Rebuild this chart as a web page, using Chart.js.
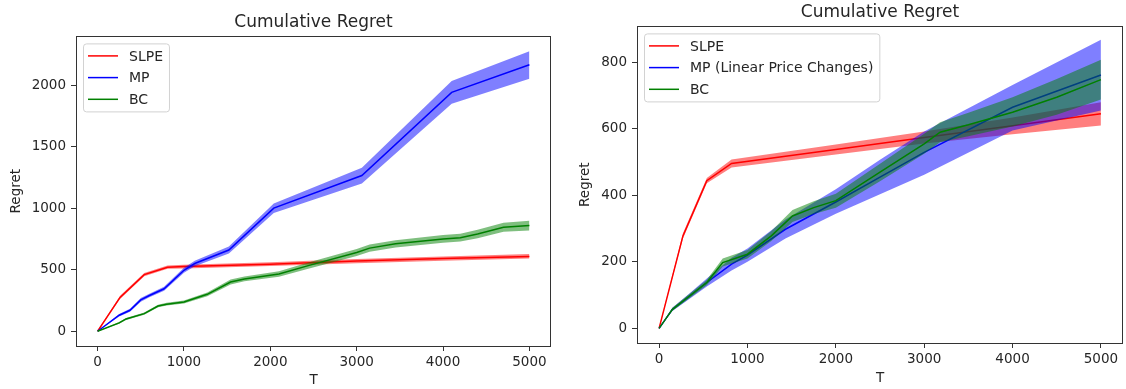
<!DOCTYPE html>
<html>
<head>
<meta charset="utf-8">
<script src="https://cdn.jsdelivr.net/npm/chart.js@4/dist/chart.umd.min.js"></script>
<style>
  html, body { margin: 0; padding: 0; background: #fff; }
  .box { position: absolute; top: 0; width: 563px; height: 389px; }
</style>
</head>
<body>
<div class="box" style="left:0"><canvas id="leftChart"></canvas></div>
<div class="box" style="left:563px"><canvas id="rightChart"></canvas></div>
<script>
// ticks
const xTicks = [0, 1000, 2000, 3000, 4000, 5000];
const leftYTicks = [0, 500, 1000, 1500, 2000];
const rightYTicks = [0, 200, 400, 600, 800];

// left plot
const leftSlpeT = [0, 260, 540, 810, 1000, 2000, 3000, 4000, 5000];
const leftSlpe = [0, 275, 460, 520, 525, 545, 570, 590, 608];
const leftSlpeUp = [4, 288, 474, 534, 540, 561, 587, 608, 627];
const leftSlpeLo = [0, 262, 447, 507, 510, 529, 553, 572, 590];

const leftMpT = [0, 250, 375, 500, 600, 770, 1000, 1125, 1520, 2040, 3060, 4100, 5000];
const leftMp = [0, 130, 170, 255, 290, 345, 495, 550, 660, 1000, 1265, 1940, 2165];
const leftMpUp = [0, 140, 182, 270, 305, 362, 515, 572, 688, 1038, 1328, 2032, 2275];
const leftMpLo = [0, 120, 158, 240, 275, 328, 475, 528, 632, 960, 1200, 1848, 2050];

const leftBcT = [0, 250, 330, 540, 700, 800, 1000, 1270, 1540, 1700, 2100, 2450, 3000, 3150, 3450, 4000, 4200, 4400, 4700, 5000];
const leftBc = [0, 68, 100, 143, 205, 220, 238, 300, 400, 425, 465, 535, 640, 675, 710, 750, 760, 790, 845, 858];
const leftBcUp = [0, 75, 108, 152, 216, 232, 250, 315, 420, 445, 488, 560, 668, 705, 740, 782, 792, 824, 882, 898];
const leftBcLo = [0, 60, 92, 134, 194, 208, 226, 285, 380, 405, 442, 510, 612, 645, 680, 718, 728, 756, 808, 818];

// right plot
const rightSlpeT = [0, 270, 540, 820, 2000, 3000, 4000, 5000];
const rightSlpe = [0, 278, 444, 496, 538, 574, 609, 645];
const rightSlpeUp = [3, 286, 452, 508, 553, 592, 634, 680];
const rightSlpeLo = [0, 270, 436, 484, 523, 556, 584, 610];

const rightMpT = [0, 150, 330, 540, 820, 1000, 1430, 2000, 2500, 3000, 4000, 5000];
const rightMp = [0, 57, 94, 138, 193, 220, 298, 380, 455, 529, 665, 762];
const rightMpUp = [0, 62, 102, 150, 212, 240, 327, 418, 507, 592, 732, 868];
const rightMpLo = [0, 52, 86, 126, 174, 200, 270, 345, 403, 462, 595, 655];

const rightBcT = [0, 150, 540, 720, 1000, 1270, 1510, 1750, 2000, 2500, 3000, 3180, 3500, 4000, 4500, 5000];
const rightBc = [0, 57, 138, 198, 223, 278, 338, 363, 384, 470, 555, 590, 612, 650, 695, 748];
const rightBcUp = [0, 62, 146, 210, 236, 293, 356, 382, 405, 495, 585, 620, 648, 695, 750, 808];
const rightBcLo = [0, 52, 130, 186, 210, 263, 320, 344, 363, 442, 525, 560, 578, 607, 642, 688];

const FONT = 'DejaVu Sans';
const TEXT = '#262626';
const RED = '#ff0000', BLUE = '#0000ff', GREEN = '#008000';
const RED_FILL = 'rgba(255,0,0,0.5)', BLUE_FILL = 'rgba(0,0,255,0.5)', GREEN_FILL = 'rgba(0,128,0,0.5)';

function pts(xs, ys) {
    return xs.map((x, i) => ({ x: x, y: ys[i] }));
}

// line + band (upper fills down to lower); higher order is drawn first
function series(label, color, fillColor, xs, mean, up, lo, order) {
    return [
        { label: label, data: pts(xs, mean), borderColor: color, borderWidth: 1.5,
          pointRadius: 0, fill: false, order: order + 1 },
        { data: pts(xs, up), borderWidth: 0, pointRadius: 0, backgroundColor: fillColor,
          fill: '+1', order: order },
        { data: pts(xs, lo), borderWidth: 0, pointRadius: 0, fill: false, order: order }
    ];
}

// frame round the plot and a matplotlib style legend
const framePlugin = {
    id: 'frame',
    afterDatasetsDraw(chart) {
        const a = chart.chartArea;
        const ctx = chart.ctx;
        ctx.save();
        ctx.strokeStyle = '#333';
        ctx.lineWidth = 1;
        ctx.strokeRect(Math.round(a.left) + 0.5, Math.round(a.top) + 0.5,
            Math.round(a.right - a.left) - 1, Math.round(a.bottom - a.top));

        const items = chart.data.datasets.filter(d => d.label);
        ctx.font = '14px "' + FONT + '"';
        let textW = 0;
        items.forEach(d => { textW = Math.max(textW, ctx.measureText(d.label).width); });
        const x0 = a.left + 7, y0 = a.top + 7;
        const w = 5 + 30 + 11 + textW + 6;
        const h = 68;
        ctx.beginPath();
        ctx.roundRect(x0 + 0.5, y0 + 0.5, w, h, 3);
        ctx.fillStyle = 'rgba(255,255,255,0.8)';
        ctx.fill();
        ctx.strokeStyle = '#d2d2d2';
        ctx.stroke();
        items.forEach((d, i) => {
            const y = y0 + 12.5 + i * 21.7;
            ctx.beginPath();
            ctx.strokeStyle = d.borderColor;
            ctx.lineWidth = 1.5;
            ctx.moveTo(x0 + 5, y);
            ctx.lineTo(x0 + 35, y);
            ctx.stroke();
            ctx.fillStyle = TEXT;
            ctx.textBaseline = 'middle';
            ctx.fillText(d.label, x0 + 46, y + 1);
        });
        ctx.restore();
    }
};

function makeChart(id, datasets, cfg) {
    const ctx = document.getElementById(id).getContext('2d');
    return new Chart(ctx, {
        type: 'line',
        data: { datasets: datasets },
        options: {
            responsive: true,
            maintainAspectRatio: false,
            animation: false,
            layout: { padding: { left: 0, right: cfg.padRight, top: 0, bottom: 0 } },
            plugins: {
                legend: { display: false },
                tooltip: { enabled: false },
                title: {
                    display: true,
                    text: 'Cumulative Regret',
                    fullSize: false,
                    color: TEXT,
                    font: { family: FONT, size: 17, weight: 'normal' },
                    padding: { top: cfg.titleTop, bottom: cfg.titleBottom }
                }
            },
            scales: {
                x: {
                    type: 'linear',
                    min: -250,
                    max: 5250,
                    afterBuildTicks: s => { s.ticks = xTicks.map(v => ({ value: v })); },
                    afterFit: s => { s.height = cfg.xHeight; },
                    grid: { display: true, drawOnChartArea: false, drawTicks: true, tickLength: 5, color: '#333' },
                    border: { display: false },
                    ticks: { color: TEXT, padding: 3, maxRotation: 0, font: { family: FONT, size: 13.5 },
                             callback: v => String(v) },
                    title: { display: true, text: 'T', color: TEXT,
                             font: { family: FONT, size: 13.5 }, padding: { top: 0, bottom: cfg.xTitlePad } }
                },
                y: {
                    type: 'linear',
                    min: cfg.yMin,
                    max: cfg.yMax,
                    afterBuildTicks: s => { s.ticks = cfg.yTicks.map(v => ({ value: v })); },
                    afterFit: s => { s.width = cfg.yWidth; },
                    grid: { display: true, drawOnChartArea: false, drawTicks: true, tickLength: 5, color: '#333' },
                    border: { display: false },
                    ticks: { color: TEXT, padding: 5, font: { family: FONT, size: 13.5 },
                             callback: v => String(v) },
                    title: { display: true, text: 'Regret', color: TEXT,
                             font: { family: FONT, size: 13.5 }, padding: { top: cfg.yTitlePad, bottom: 0 } }
                }
            }
        },
        plugins: [framePlugin]
    });
}

const leftSets = [].concat(
    series('SLPE', RED, RED_FILL, leftSlpeT, leftSlpe, leftSlpeUp, leftSlpeLo, 5),
    series('MP', BLUE, BLUE_FILL, leftMpT, leftMp, leftMpUp, leftMpLo, 3),
    series('BC', GREEN, GREEN_FILL, leftBcT, leftBc, leftBcUp, leftBcLo, 1)
);
const rightSets = [].concat(
    series('SLPE', RED, RED_FILL, rightSlpeT, rightSlpe, rightSlpeUp, rightSlpeLo, 5),
    series('MP (Linear Price Changes)', BLUE, BLUE_FILL, rightMpT, rightMp, rightMpUp, rightMpLo, 3),
    series('BC', GREEN, GREEN_FILL, rightBcT, rightBc, rightBcUp, rightBcLo, 1)
);

makeChart('leftChart', leftSets, {
    padRight: 12, titleTop: 12, titleBottom: 4, xHeight: 43, yWidth: 76,
    yMin: -120, yMax: 2395, yTicks: leftYTicks, xTitlePad: 0, yTitlePad: 8
});
makeChart('rightChart', rightSets, {
    padRight: 3, titleTop: 2, titleBottom: 4, xHeight: 46, yWidth: 74,
    yMin: -44, yMax: 908, yTicks: rightYTicks, xTitlePad: 2, yTitlePad: 14
});
</script>
</body>
</html>
